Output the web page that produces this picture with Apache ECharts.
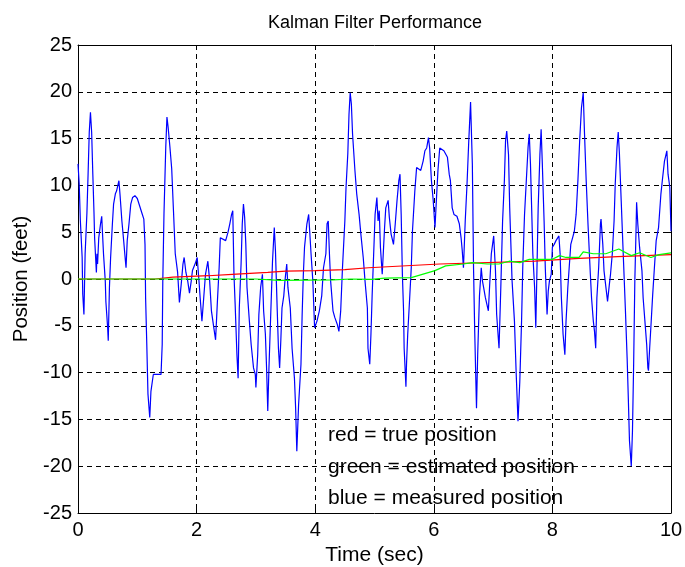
<!DOCTYPE html>
<html>
<head>
<meta charset="utf-8">
<script src="https://cdn.jsdelivr.net/npm/echarts@6/dist/echarts.min.js"></script>
<style>
  html, body { margin: 0; padding: 0; background: #fff; }
  #chart { width: 685px; height: 567px; }
</style>
</head>
<body>
<div id="chart"></div>
<script>
// measured position (blue)
var measT = [0.00,0.02,0.04,0.07,0.08,0.10,0.12,0.15,0.17,0.19,0.21,0.23,0.25,0.27,0.28,0.31,0.32,0.33,0.35,0.38,
  0.40,0.41,0.43,0.46,0.47,0.50,0.51,0.53,0.55,0.58,0.60,0.63,0.65,0.69,0.71,0.74,0.77,0.80,0.81,0.83,
  0.86,0.89,0.92,0.96,1.00,1.04,1.08,1.11,1.13,1.14,1.16,1.18,1.21,1.23,1.27,1.29,1.40,1.42,1.43,1.45,
  1.48,1.50,1.52,1.55,1.58,1.61,1.64,1.68,1.71,1.74,1.77,1.79,1.82,1.85,1.88,1.91,1.93,1.98,2.01,2.04,
  2.06,2.09,2.12,2.15,2.19,2.22,2.25,2.29,2.32,2.35,2.38,2.40,2.43,2.49,2.53,2.56,2.59,2.61,2.63,2.65,
  2.68,2.70,2.72,2.75,2.77,2.79,2.81,2.83,2.85,2.89,2.92,2.96,2.99,3.00,3.03,3.05,3.08,3.11,3.13,3.16,
  3.18,3.20,3.22,3.25,3.28,3.31,3.33,3.36,3.38,3.40,3.42,3.44,3.47,3.49,3.52,3.54,3.58,3.61,3.65,3.67,
  3.69,3.72,3.76,3.78,3.80,3.82,3.86,3.89,3.91,3.93,3.96,3.99,4.03,4.07,4.11,4.14,4.18,4.20,4.22,4.24,
  4.26,4.30,4.33,4.37,4.40,4.43,4.46,4.50,4.52,4.55,4.57,4.59,4.61,4.63,4.67,4.70,4.74,4.77,4.81,4.84,
  4.88,4.89,4.92,4.94,4.96,4.99,5.01,5.04,5.06,5.08,5.10,5.13,5.15,5.17,5.19,5.23,5.25,5.28,5.32,5.35,
  5.38,5.41,5.43,5.45,5.47,5.49,5.50,5.53,5.54,5.56,5.59,5.62,5.64,5.68,5.71,5.74,5.78,5.82,5.85,5.88,
  5.91,5.93,5.96,5.99,6.02,6.04,6.07,6.10,6.13,6.17,6.20,6.23,6.26,6.28,6.31,6.34,6.39,6.43,6.46,6.48,
  6.50,6.53,6.56,6.59,6.62,6.65,6.67,6.69,6.72,6.74,6.77,6.80,6.82,6.84,6.87,6.92,6.94,6.97,7.01,7.04,
  7.06,7.10,7.13,7.16,7.19,7.21,7.23,7.26,7.28,7.32,7.36,7.39,7.42,7.45,7.48,7.50,7.53,7.56,7.59,7.61,
  7.63,7.65,7.67,7.70,7.72,7.74,7.76,7.79,7.81,7.83,7.86,7.88,7.91,7.93,7.95,7.98,8.00,8.03,8.06,8.11,
  8.13,8.15,8.18,8.21,8.23,8.26,8.31,8.34,8.37,8.40,8.43,8.46,8.49,8.52,8.54,8.57,8.60,8.64,8.66,8.69,
  8.71,8.73,8.75,8.78,8.81,8.82,8.85,8.87,8.91,8.93,8.96,8.98,9.01,9.04,9.06,9.09,9.11,9.13,9.16,9.19,
  9.23,9.26,9.28,9.30,9.33,9.35,9.37,9.39,9.41,9.42,9.44,9.47,9.51,9.53,9.56,9.59,9.61,9.62,9.64,9.66,
  9.69,9.72,9.75,9.79,9.83,9.86,9.89,9.93,9.95,9.98,10.00];
var measV = [12.3,10.2,6.2,2.3,-1.6,-3.8,2.7,7.0,11.2,15.7,17.8,15.7,11.2,7.0,4.4,0.7,2.7,1.6,4.4,5.9,
  6.7,5.3,2.7,-0.2,-2.4,-5.2,-6.6,-0.9,2.3,5.9,8.0,9.1,9.4,10.5,8.9,6.2,4.1,1.9,1.2,4.1,
  5.9,8.0,8.7,8.9,8.6,7.8,7.0,6.4,3.7,-2.0,-7.0,-12.3,-14.8,-12.0,-10.2,-10.0,-10.2,-7.0,-0.2,7.0,
  14.1,17.3,16.2,14.1,11.8,7.3,2.7,0.7,-2.5,-0.6,1.6,2.3,0.7,-0.2,-1.5,-0.2,0.9,1.7,2.3,-0.2,
  -2.0,-4.5,-2.0,0.5,1.9,-0.2,-3.4,-5.2,-6.5,-2.5,1.2,4.4,4.2,4.1,5.0,5.9,6.9,7.3,0.5,-2.7,
  -8.1,-10.6,-3.1,1.6,5.9,8.0,6.6,3.7,-0.9,-4.5,-7.0,-9.5,-10.2,-11.6,-8.1,-3.8,-0.9,0.5,-3.4,-5.9,
  -9.5,-14.1,-9.5,-3.8,1.9,5.5,3.0,-3.4,-7.4,-9.5,-6.6,-3.1,-1.8,-0.2,1.6,-0.9,-3.1,-7.4,-10.6,-13.8,
  -18.4,-13.4,-9.1,-3.8,0.5,3.4,5.9,6.9,4.8,2.7,-0.2,-5.2,-4.5,-3.4,-1.8,1.2,2.7,5.9,6.2,2.7,
  -0.2,-3.4,-4.1,-4.8,-5.6,-3.4,1.2,6.2,9.8,13.4,17.6,19.9,18.7,15.5,11.6,9.1,6.9,4.8,2.3,-0.2,
  -3.1,-7.4,-9.1,-5.9,-1.8,3.4,6.9,8.7,6.2,7.3,3.4,0.5,3.0,5.5,7.6,8.4,6.6,4.8,3.7,5.9,
  8.4,10.5,11.2,6.9,0.5,-3.4,-7.4,-11.5,-9.1,-5.9,-2.4,1.2,5.1,9.4,11.9,12.1,11.6,12.6,13.7,14.0,
  15.1,14.0,10.5,8.4,5.5,8.0,11.6,14.0,14.2,13.7,13.7,13.0,11.2,10.5,7.6,6.9,6.7,5.9,4.4,3.0,
  1.2,6.2,10.1,14.8,18.9,12.3,1.2,-5.6,-13.8,-8.1,-1.8,1.2,-0.2,-0.9,-2.0,-3.4,-0.9,2.7,4.6,0.9,
  -3.8,-7.4,-0.9,6.2,10.5,14.8,15.8,13.3,7.6,-0.2,-4.5,-10.2,-15.2,-11.0,-4.5,1.2,6.9,10.5,14.1,15.5,
  12.3,7.6,2.7,-0.9,-5.2,1.2,7.6,13.4,16.0,12.3,6.2,1.2,-3.8,-1.3,-0.2,0.5,3.4,3.7,4.1,4.6,
  2.7,-1.8,-5.9,-8.1,-4.5,-0.9,3.7,4.4,5.1,6.9,10.5,14.8,18.3,19.9,15.8,10.5,5.9,0.5,-2.0,-4.5,
  -5.6,-7.4,-2.0,1.2,5.9,6.4,3.7,0.9,-1.3,-2.4,-0.6,0.5,2.7,6.2,10.2,14.1,15.7,13.4,8.4,3.4,
  -3.1,-8.4,-12.7,-17.3,-20.0,-16.3,-9.1,-0.2,5.1,8.2,5.9,3.4,0.9,-2.0,-4.5,-7.0,-9.5,-9.8,-7.4,-5.2,
  -1.8,1.2,4.1,5.5,9.1,10.9,12.6,13.7,11.2,9.8,5.1];

// true position (red)
var trueT = [0, 1.3, 1.6, 2.2, 2.6, 3.2, 3.5, 4.0, 4.5, 4.9, 6.1, 7.45, 7.7, 8.45, 9.1, 10];
var trueV = [0, 0, 0.2, 0.35, 0.5, 0.7, 0.85, 0.9, 1.0, 1.2, 1.6, 1.85, 1.9, 2.2, 2.4, 2.6];

// estimated position (green)
var estT = [0, 3.0, 3.4, 4.3, 4.6, 4.95, 5.17, 5.62, 6.02, 6.2, 6.5, 6.65, 6.9, 7.1, 7.27, 7.45,
  7.61, 8.0, 8.12, 8.23, 8.45, 8.52, 8.69, 8.9, 9.12, 9.33, 9.47, 9.66, 9.8, 10];
var estV = [0, 0, -0.15, -0.1, 0, -0.03, 0.1, 0.15, 0.9, 1.4, 1.6, 1.75, 1.6, 1.6, 1.9, 1.75,
  2.1, 2.1, 2.5, 2.3, 2.3, 2.9, 2.7, 2.7, 3.2, 2.5, 2.8, 2.3, 2.6, 2.8];

var notes = ['red = true position', 'green = estimated position', 'blue = measured position'];

function zip(t, v) {
  return t.map(function (x, i) { return [x, v[i]]; });
}

var font = 'Liberation Sans, Arial, sans-serif';
var chart = echarts.init(document.getElementById('chart'));

var boxAxis = {
  type: 'value',
  axisLine: { show: true, onZero: false, lineStyle: { color: '#000', width: 1 } },
  axisTick: { show: true, inside: true, length: 5, lineStyle: { color: '#000' } },
  axisLabel: { show: false },
  splitLine: { show: false }
};

chart.setOption({
  animation: false,
  backgroundColor: '#fff',
  title: {
    text: 'Kalman Filter Performance',
    left: 370, top: 9, textAlign: 'center',
    textStyle: { fontFamily: font, fontSize: 18, fontWeight: 'normal', color: '#000' }
  },
  grid: { left: 78, top: 45, width: 593, height: 468, outerBoundsMode: 'none' },
  xAxis: [
    {
      type: 'value', min: 0, max: 10, interval: 2,
      name: 'Time (sec)', nameLocation: 'middle', nameGap: 27,
      nameTextStyle: { fontFamily: font, fontSize: 21, color: '#000' },
      axisLine: { show: true, onZero: false, lineStyle: { color: '#000' } },
      axisTick: { inside: true, length: 5, lineStyle: { color: '#000' } },
      axisLabel: { fontFamily: font, fontSize: 20, color: '#000', margin: 7 },
      splitLine: { show: true, lineStyle: { color: '#000', type: [5, 4], width: 1 } }
    },
    Object.assign({}, boxAxis, { position: 'top', min: 0, max: 10, interval: 2 })
  ],
  yAxis: [
    {
      type: 'value', min: -25, max: 25, interval: 5,
      name: 'Position (feet)', nameLocation: 'middle', nameGap: 38,
      nameTextStyle: { fontFamily: font, fontSize: 20.5, color: '#000' },
      axisLine: { show: true, onZero: false, lineStyle: { color: '#000' } },
      axisTick: { inside: true, length: 5, lineStyle: { color: '#000' } },
      axisLabel: { fontFamily: font, fontSize: 20, color: '#000', margin: 6 },
      splitLine: { show: true, lineStyle: { color: '#000', type: [5, 4], width: 1 } }
    },
    Object.assign({}, boxAxis, { position: 'right', min: -25, max: 25, interval: 5 })
  ],
  series: [
    {
      type: 'line', data: zip(measT, measV), symbol: 'none',
      lineStyle: { color: '#0000ff', width: 1.2 }, z: 3
    },
    {
      type: 'line', data: zip(trueT, trueV), symbol: 'none',
      lineStyle: { color: '#ff0000', width: 1.2 }, z: 4
    },
    {
      type: 'line', data: zip(estT, estV), symbol: 'none',
      lineStyle: { color: '#00ff00', width: 1.2 }, z: 5
    }
  ],
  graphic: notes.map(function (s, i) {
    return {
      type: 'text', left: 328, top: 425 + i * 31.5, z: 10,
      style: { text: s, fill: '#000', font: '21px ' + font }
    };
  })
});
</script>
</body>
</html>
